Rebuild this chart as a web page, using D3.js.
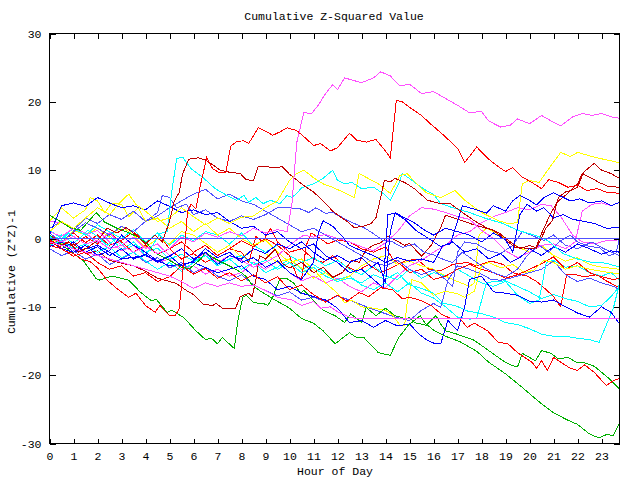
<!DOCTYPE html>
<html><head><meta charset="utf-8">
<script src="https://cdn.jsdelivr.net/npm/d3@7"></script>
<style>
body{margin:0;background:#fff}
svg{display:block}
text{font-family:"Liberation Mono","DejaVu Sans Mono",monospace;font-size:11.5px;fill:#000}
</style>
</head><body>
<svg id="chart" width="640" height="480"></svg>
<script>
const title = "Cumulative Z-Squared Value";
const xLabel = "Hour of Day";
const yLabel = "Cumulative (Z*Z)-1";
const hourTicks = d3.range(0, 24);
const valueTicks = [-30, -20, -10, 0, 10, 20, 30];

// each series: [hour, cumulative value]
const magentaBig = [[0,0],[0.5,-0.5],[1,0.3],[1.5,-0.8],[2,-0.3],[2.5,-1.5],[3,-1],[3.5,-2],[4,-1.2],[4.5,-2.2],[5,-1.5],[5.5,0.2],[6,-0.5],[6.5,0.8],[7,0.2],[7.5,1],[8,0.4],[8.5,1.5],[9,0.8],[9.5,1.3],[9.9,1],[10.1,5],[10.3,14],[10.6,18.5],[10.9,18.2],[11.2,19.5],[11.5,21.2],[11.8,22.5],[12,21.8],[12.3,23.5],[12.6,23.2],[13,22.8],[13.5,23.5],[13.8,24.4],[14.2,23.8],[14.6,22.3],[15,22.6],[15.5,21.2],[16,21.5],[16.5,20.5],[17,19.5],[17.5,18.4],[18,18.6],[18.3,17.2],[18.8,16.3],[19.2,16.6],[19.5,17.5],[20,16.8],[20.5,18],[21,17],[21.3,16.5],[21.8,17.8],[22.2,18.3],[22.6,18],[23,18.3],[23.4,17.8],[23.75,17.6]];
const redBig = [[0,-0.3],[0.3,-0.8],[0.6,-1.8],[1,-2.2],[1.3,-3],[1.7,-3.4],[2,-4.3],[2.4,-6.1],[2.8,-7.3],[3.3,-8.6],[3.6,-8],[4,-9.8],[4.4,-10.8],[4.6,-9.8],[5,-11.3],[5.25,-11.2],[5.4,-10.3],[5.5,-7],[5.6,-3],[5.75,4],[5.9,5],[6.1,4.3],[6.3,8],[6.55,11.8],[6.8,10.2],[7.1,9.6],[7.35,9.7],[7.55,13.5],[7.8,14.2],[8.1,14.3],[8.3,13.9],[8.7,16.2],[9,15.7],[9.3,15.1],[9.6,15.6],[9.9,16.2],[10.3,15.8],[10.7,14.6],[11,13.6],[11.3,13.9],[11.7,12.8],[12,13.3],[12.5,15.4],[12.8,14.4],[13.2,14.1],[13.6,14.5],[14,12.8],[14.2,11.8],[14.45,20.2],[14.7,20],[15,19.2],[15.5,18],[15.9,16.7],[16.3,15.5],[16.7,14.2],[17,13.2],[17.3,11.1],[17.8,13.4],[18.3,11.6],[18.7,10.5],[19,9.8],[19.3,10.4],[19.7,9],[20.1,8.2],[20.5,7.3],[20.8,8.6],[21.2,8.2],[21.6,7.5],[22,7.8],[22.4,7],[22.8,7.3],[23.2,6.8],[23.75,6.6]];
const darkRedHigh = [[0,-0.5],[0.4,-1.2],[0.8,-0.5],[1.2,-2],[1.6,-1.3],[2,-0.3],[2.4,1.5],[2.8,0.8],[3.2,1.6],[3.6,0.5],[4,-0.8],[4.4,0.5],[4.7,-0.5],[5,2.5],[5.2,5.5],[5.4,6.7],[5.55,9.5],[5.8,11.6],[6.2,11.8],[6.5,11.5],[6.8,10.8],[7.1,10],[7.5,9.7],[7.95,9.5],[8.2,8.6],[8.5,8.5],[8.7,10.6],[9,10.5],[9.4,10.4],[9.7,10.5],[10,9.4],[10.5,8],[11,6.8],[11.4,5.5],[11.8,4],[12.1,3.2],[12.4,2.5],[12.7,1.6],[13.1,1.8],[13.4,2.2],[13.6,3],[13.8,6],[13.95,8.5],[14.2,8.3],[14.4,8.8],[14.8,8.2],[15.2,7.3],[15.75,5.6],[16.3,5.1],[16.7,5.1],[17.25,3.7],[17.7,2.6],[18.25,1.5],[18.7,0.9],[19.2,-0.5],[19.6,-1.5],[20,-1],[20.3,-1.4],[20.7,1.6],[20.95,2.6],[21.2,6],[21.5,6.8],[21.7,7],[22,7.5],[22.25,9.7],[22.7,11],[23,10],[23.4,9.5],[23.75,8.8]];
const darkRedLow = [[0,-0.2],[0.5,-1],[1,-0.8],[1.5,-2.2],[2,-1.8],[2.5,-3.2],[3,-3.6],[3.5,-4],[4,-4.8],[4.5,-5.8],[5,-6.3],[5.3,-6.6],[5.7,-7.6],[6,-8.2],[6.4,-9.6],[6.8,-9.8],[6.95,-9.5],[7.2,-10.2],[7.75,-10.2],[7.95,-8.5],[8.3,-8],[8.45,-8.5],[8.6,-6],[8.75,-2.5],[9,-3],[9.4,-1.6],[9.7,-3.7],[10,-4.3],[10.5,-3.5],[11,-5],[11.4,-4.2],[11.8,-5.7],[12.2,-5],[12.6,-3.2],[12.9,-3.5],[13.2,-1.6],[13.5,-1],[13.8,-0.6],[14.1,0.3],[14.4,-0.2],[14.8,-1],[15,-0.7],[15.5,-2.6],[15.9,-1],[16.3,1.6],[16.5,3.4],[17.2,2.6],[17.6,2.1],[18.1,1.6],[18.5,1.2],[19,-0.2],[19.4,-1.3],[20.25,-1.5],[20.5,0.7],[20.9,3.8],[21.2,5.5],[21.6,6.6],[22,8],[22.2,9.5],[22.6,8.8],[22.9,8.2],[23.3,7.6],[23.75,7.5]];
const yellowHigh = [[0,1],[0.5,2.5],[1,1.5],[1.5,3],[2,4.5],[2.5,3.5],[3,5.5],[3.3,6.5],[3.6,5],[4,4],[4.5,2.5],[5,3],[5.5,4.5],[6,3.2],[6.5,2],[7,3],[7.5,2.2],[8,3.1],[8.5,3.3],[9,4.5],[9.5,5.5],[10,8.5],[10.3,9.5],[10.6,10],[11,8.9],[11.4,8],[11.8,7.5],[12.7,6],[12.9,9.5],[13.7,8],[14.2,6.6],[14.6,9.2],[14.9,9.5],[15.3,8],[15.7,6.7],[16.3,6],[16.9,7],[17.3,5.6],[18,3.8],[18.7,2.6],[19.1,2.2],[19.5,2.3],[19.7,8],[20,8.5],[20.4,8.2],[20.8,10.2],[21.3,12.6],[21.7,12],[22,12.6],[22.6,12],[23.2,11.5],[23.75,11.1]];
const magentaFlat = [[0,-0.5],[1,-1.5],[2,-2.5],[3,-3.5],[4,-4.5],[5,-5.5],[5.5,-6.3],[6,-7.3],[6.5,-6.5],[7,-7],[7.5,-6.5],[8,-7],[8.5,-6.8],[9,-7.6],[9.5,-8.6],[10.1,-9],[10.5,-9.8],[11,-9.2],[11.3,-10.2],[11.7,-10],[12,-10.7],[12.5,-11.5],[12.8,-11.7],[23.75,-11.7]];
const greenLow = [[0,3.4],[0.4,2.6],[0.85,1.6],[1.3,1.2],[1.95,3.8],[2.3,2.4],[2.75,1.6],[3.25,0.9],[3.7,0.2],[4.05,-0.7],[4.45,-2.2],[5,-3.2],[5.5,-4.2],[5.85,-4.4],[6.3,-3],[6.5,-2],[6.8,-2.8],[7.2,-3.5],[7.6,-4.2],[8,-5],[8.2,-5.6],[8.4,-6.6],[8.7,-7.5],[9.3,-8.8],[10,-10.2],[10.5,-11.7],[11,-12.4],[11.4,-13.5],[11.9,-15.4],[12.5,-13.8],[12.8,-14.5],[13.1,-14.5],[13.7,-16.7],[14.2,-17.1],[14.55,-14.5],[14.95,-12.7],[15.45,-11.3],[15.65,-12.4],[16,-13.4],[16.5,-14.3],[17.1,-15.1],[17.8,-16.5],[18.3,-18.1],[19,-19.8],[19.7,-21.8],[20.4,-23.9],[21,-25.5],[21.6,-26.6],[22,-27.2],[22.5,-28.6],[22.9,-29.2],[23.2,-28.7],[23.5,-28.8],[23.75,-27]];
const greenMid = [[0,0.5],[0.4,-0.6],[0.85,-1.8],[1.4,-3.2],[1.95,-5.9],[2.1,-6.1],[2.6,-5.5],[3.3,-6.1],[3.8,-7.9],[4.25,-9.1],[4.45,-8.9],[4.9,-10.8],[5.1,-10.5],[5.6,-11.6],[6.1,-13.5],[6.5,-14.8],[6.75,-14.6],[7,-15.4],[7.2,-14.5],[7.7,-16.1],[7.85,-12],[8.05,-8.6],[8.2,-8.3],[8.5,-9.4],[8.9,-9.5],[9.1,-9.8],[9.3,-8.6],[9.6,-5.9],[9.9,-5.9],[10.2,-6.6],[10.45,-8],[10.6,-7.6],[11.1,-9.4],[11.4,-10.5],[11.9,-11.3],[12.3,-12.3],[12.55,-11],[13,-12.3],[13.2,-10.1],[13.6,-11.3],[14,-10.2],[14.4,-11.3],[14.8,-11.7],[15,-11.6],[15.2,-12.3],[15.7,-12.7],[16.1,-11.3],[16.3,-12.5],[16.5,-13.5],[16.9,-13.9],[17.7,-14.9],[18.3,-16.4],[18.9,-17.9],[19.2,-18.5],[19.5,-18.8],[19.7,-16.8],[20.25,-17.9],[20.5,-16.4],[20.9,-16.8],[21.2,-17.6],[21.6,-17.4],[22,-18.2],[22.3,-18.2],[22.7,-18.7],[23.25,-20.3],[23.75,-22]];
const redFalling = [[0,-1],[0.5,-1.5],[1,-2.6],[1.5,-2],[2,-3.5],[2.5,-4.5],[3,-4],[3.5,-5.5],[4,-5],[4.5,-6.3],[5,-5.6],[5.5,-4],[6,-5.2],[6.5,-4.4],[7,-5.8],[7.5,-5],[8,-6.2],[8.5,-5.3],[9,-6.5],[9.5,-5.6],[10,-7.5],[10.5,-6.8],[11,-8.2],[11.5,-9.3],[12,-8.3],[12.4,-9.2],[12.9,-7.9],[13.3,-8.5],[13.8,-7.2],[14.3,-7.5],[14.7,-8.8],[15,-8.6],[15.5,-9.1],[15.9,-9.8],[16.3,-11],[16.7,-11.7],[17.1,-11.7],[17.4,-13],[17.7,-12.4],[18.25,-13.5],[18.7,-15.2],[19.1,-15.4],[19.5,-16.7],[20.1,-18.1],[20.3,-19],[20.5,-17.9],[20.75,-19.3],[21,-17.4],[21.3,-18.1],[21.7,-19],[22,-19.3],[22.3,-18.5],[22.7,-19.6],[23.2,-21.5],[23.5,-20.8],[23.75,-20.5]];
const redMid = [[0,0.5],[0.5,-0.5],[1,0.8],[1.5,-0.6],[2,0.5],[2.5,-1],[3,-0.3],[3.5,1],[4,-0.5],[4.5,0.8],[5,-1.5],[5.5,-0.5],[6,-2],[6.5,-1],[7,-2.5],[7.5,-1.5],[8,-2],[8.3,-3.5],[8.6,0.3],[8.9,-0.5],[9.2,1.5],[9.5,-0.5],[10,-2],[10.5,-1.5],[11,-3],[11.4,-3.5],[11.8,-2.5],[12.3,-4],[12.8,-4.8],[13.3,-3.8],[13.8,-5],[14.3,-4.2],[14.8,-3.3],[15.3,-3],[15.8,-4.5],[16.3,-4.7],[16.8,-3.8],[17.4,-3.5],[17.8,-4],[18.4,-3.3],[18.9,-3.8],[19.3,-5],[19.9,-5.5],[20.3,-6.3],[20.7,-7.5],[21,-8.5],[21.3,-10],[21.55,-5.3],[21.8,-5.2],[22.3,-5.6],[22.8,-5.3],[23.2,-6.2],[23.75,-7.2]];
const redLow = [[0,-0.8],[0.5,-0.3],[1,-1.2],[1.5,0.3],[2,-0.8],[2.5,0.8],[3,-0.5],[3.5,-2],[4,-1],[4.5,-2.3],[5,-1.5],[5.5,-3],[6,-2.2],[6.5,-3.5],[7,-2.5],[7.5,-1.5],[8,-0.3],[8.5,-1.2],[9,0],[9.5,-1],[10,-2.5],[10.3,-5.5],[10.5,-6],[10.7,-1],[10.9,0.8],[11.2,0.2],[11.6,-0.8],[12,-0.2],[12.5,-0.5],[13,-1.5],[13.5,-2],[14,-1.2],[14.3,-3],[14.7,-4],[15,-5],[15.5,-4.5],[16,-6],[16.5,-5.5],[17,-4.5],[17.5,-3.8],[18,-4.5],[18.5,-5],[19,-5.8],[19.5,-5.3],[20,-4.5],[20.5,-3.7],[21,-2.7],[21.5,-4.5],[22,-3.5],[22.5,-5],[23,-5.6],[23.5,-6],[23.75,-5.8]];
const cyanPeak = [[0,0.3],[0.4,-0.5],[0.8,0.8],[1.2,-0.2],[1.6,1.2],[2,0.3],[2.4,-1],[2.8,0],[3.2,-1.5],[3.6,-0.8],[4,-2.5],[4.3,-1],[4.6,0.7],[4.9,1],[5.1,7],[5.3,11.7],[5.55,11.9],[5.9,10.2],[6.4,8.9],[6.9,7.3],[7.4,6.3],[7.8,5.6],[8.1,6.3],[8.3,5.3],[8.6,6],[8.9,5.1],[9.2,5.6],[9.6,5.1],[9.9,6.3],[10.1,6],[10.3,6.6],[10.5,7.4],[11,8],[11.4,8.8],[11.8,10],[12,8.5],[12.3,8],[12.6,8.2],[13,7.3],[13.5,7.5],[13.9,6.6],[14.2,5.6],[14.55,8],[14.7,9.5],[14.95,8.9],[15.3,8],[15.7,7],[16,6.5],[16.3,5.1],[16.8,4.5],[17.5,3.8],[18.2,2.9],[18.9,2.2],[19.5,1.2],[20.3,0.4],[20.8,-0.4],[21.4,-2.2],[22,-3],[22.6,-3.5],[23.2,-3.6],[23.75,-4.2]];
const cyanDip = [[0,-1],[0.5,-0.3],[1,-1.5],[1.5,-0.8],[2,-2],[2.5,-1.2],[3,-2.8],[3.5,-2],[4,-3.3],[4.5,-4.5],[5,-3.5],[5.5,-4.8],[6,-3.5],[6.5,-2.5],[7,-4],[7.5,-3],[8,-2.5],[8.5,-3.8],[9,-3.2],[9.5,-4.5],[10,-3.5],[10.5,-5],[11,-4.2],[11.5,-5.5],[12,-6.3],[12.5,-5.8],[13,-6.5],[13.5,-5.3],[14,-6],[14.5,-5],[15,-6.8],[15.5,-7.3],[16,-8],[16.4,-9.5],[16.9,-9.8],[17.4,-10.6],[18,-11],[18.5,-11.5],[19,-12.3],[19.5,-12.6],[20,-13.2],[20.5,-14],[21,-14.3],[21.5,-14.3],[22,-14.6],[22.5,-14.8],[22.9,-15.2],[23.5,-10.1],[23.75,-6.6]];
const cyanJump = [[0,-0.5],[0.5,0.5],[1,-0.7],[1.5,0.8],[2,-0.8],[2.5,0.5],[3,-1.7],[3.5,-0.5],[4,-2],[4.5,-1.4],[5,-3],[5.5,-2.3],[6,-3.3],[6.5,-2.5],[7,-3.7],[7.5,-3],[8,-4.5],[8.5,-3.5],[9,-5],[9.5,-4.2],[10,-3],[10.5,-4.5],[11,-3.8],[11.5,-5],[12,-6],[12.5,-5.5],[13,-6.8],[13.5,-7.5],[14,-6.5],[14.5,-7.8],[15,-6.5],[15.5,-8],[16,-8.7],[16.5,-10],[17,-11.5],[17.5,-11.8],[17.8,-11.7],[18.2,-6.5],[18.5,-6.3],[19,-6.2],[19.5,-7],[20,-7.8],[20.5,-8.8],[21,-8.2],[21.5,-8.8],[22,-9.2],[22.5,-10],[23,-9.8],[23.4,-8.5],[23.75,-7]];
const cyanLate = [[0,1.2],[0.5,0],[1,1.5],[1.5,0.5],[2,2],[2.5,1],[3,0],[3.5,1.3],[4,-0.5],[4.5,0.8],[5,-1],[5.5,0.5],[6,-0.3],[6.5,1],[7,0.5],[7.5,-0.8],[8,0.8],[8.5,-1],[9,-2],[9.5,-1],[10,-2.5],[10.5,-3.5],[11,-2.8],[11.5,-4],[12,-3.2],[12.5,-4.5],[13,-5.3],[13.5,-4],[14,-5.5],[14.5,-6],[15,-4.5],[15.5,-5.8],[16,-5],[16.5,-5.5],[17,-4.5],[17.5,-5.5],[18,-6.5],[18.5,-7],[19,-6.3],[19.5,-8.3],[20,-9.5],[20.4,-9],[20.7,-3.5],[21,-3.2],[21.5,-4.2],[22,-4],[22.5,-5],[23,-5.5],[23.4,-5],[23.75,-6.1]];
const yellowEarly = [[0,2.5],[0.5,4.5],[1,3],[1.5,4.2],[1.7,6],[2,5.5],[2.3,3.8],[2.6,5.2],[3,5],[3.3,3.2],[3.7,4.5],[4,2.5],[4.5,3],[5,1.5],[5.5,2.5],[6,1],[6.5,2.2],[7,0.5],[7.5,1.5],[8,0],[8.5,-1],[9,-0.2],[9.5,-2],[10,-3.5],[10.5,-3],[11,-4.5],[11.5,-6.5],[12,-8],[12.3,-9.4],[12.6,-9],[13,-10],[13.5,-10.2],[14,-10.5],[14.3,-11.2],[14.6,-12.7],[14.8,-12.7],[14.9,-9.5],[15.1,-6],[15.5,-6.5],[16,-8.3],[16.5,-7.7],[17,-8.1],[17.3,-8.6],[17.7,-7.7],[18,-4],[18.3,-3.5],[18.8,-4.3],[19.3,-3.8],[19.8,-5],[20.2,-4.6],[20.6,-3.2],[21,-3.5],[21.5,-4.5],[22,-4],[22.5,-4.5],[23,-4.8],[23.75,-5.2]];
const yellowMid = [[0,0],[0.5,-0.8],[1,1.2],[1.5,0.5],[2,1.5],[2.5,0.2],[3,1.8],[3.5,0.5],[4,-1.3],[4.5,0],[5,-0.8],[5.5,1],[6,0.5],[6.5,-0.7],[7,-2],[7.5,-1],[8,-2.8],[8.5,-1.5],[9,-2.2],[9.5,-3.5],[10,-3],[10.5,-4.3],[11,-5.8],[11.5,-5],[12,-6.3],[12.5,-5.5],[13,-4],[13.5,-3],[14,-2.5],[14.5,-3.8],[15,-3.3],[15.5,-4],[16,-4.5],[16.5,-5.5],[17,-6.3],[17.5,-7],[17.7,-6.5],[17.9,0.5],[18.2,1.5],[18.6,0.8],[19,0],[19.5,-1.2],[20,-2],[20.5,-1],[21,-2.5],[21.5,-3.3],[22,-2.8],[22.5,-3.8],[23,-4.2],[23.75,-4.5]];
const blueRise = [[0,-0.3],[0.5,-1.5],[1,-0.5],[1.5,-2],[2,-1.2],[2.5,-2.5],[3,-1.5],[3.5,-3],[4,-2.3],[4.5,-3.5],[5,-2.5],[5.5,-4],[6,-3.3],[6.5,-1.5],[7,-2.8],[7.5,-2],[8,-3.5],[8.5,-2.8],[9,-4.2],[9.5,-3.3],[10,-5],[10.5,-6],[11,-3.5],[11.2,0.8],[11.4,2.6],[11.8,1.8],[12.2,0.3],[12.5,-1],[13,-1.8],[13.5,-2.5],[14,-3.5],[14.5,-2.8],[15,-3.3],[15.5,-3],[16,-3.5],[16.4,-1],[16.7,-0.8],[17,2.5],[17.2,4.8],[17.4,4.6],[17.8,4.2],[18.2,3.7],[18.5,4.8],[19,4],[19.3,5.5],[19.6,6.3],[19.9,5.8],[20.3,4.9],[20.6,6],[21,6.7],[21.3,6.2],[21.7,5.5],[22.1,5.8],[22.5,5.2],[23,5.5],[23.4,4.8],[23.75,5.3]];
const blueJump = [[0,-1.2],[0.5,-0.5],[1,-2],[1.5,-1],[2,-2.5],[2.5,-1.8],[3,0.5],[3.5,-1],[4,-2],[4.5,-3.3],[5,-2.6],[5.5,-1.5],[6,-3],[6.5,-2],[7,-3.8],[7.5,-2.5],[8,-3],[8.5,-1.5],[9,-2.2],[9.5,-0.8],[10,-1.5],[10.5,-0.5],[11,-2],[11.5,-3.2],[12,-2.5],[12.5,-3.5],[13,-2.8],[13.4,-4.2],[13.7,-3.5],[14,-6.5],[14.2,1],[14.4,3.8],[14.8,3],[15.2,2.3],[15.6,1.3],[16,0.5],[16.5,1.5],[17,1],[17.5,0.5],[18,-0.5],[18.5,0.8],[19,-0.2],[19.3,-2],[19.6,3.5],[19.9,5],[20.3,4],[20.6,4.5],[21,3],[21.4,3.5],[21.8,2.8],[22.3,2.5],[22.7,2.2],[23.2,1.5],[23.75,1.6]];
const blueLow = [[0,-1],[1,-2],[2,-1],[3,-3],[4,-2.5],[5,-4],[6,-3.5],[7,-5],[8,-4],[8.5,-5.5],[9,-6],[9.5,-7.5],[10,-7],[10.5,-8],[11,-8.5],[11.5,-9],[12,-10.2],[12.5,-12.3],[13,-12],[13.5,-13],[14,-12],[14.5,-12.8],[15,-12.5],[15.4,-14],[15.7,-14.8],[16,-15.3],[16.3,-15.4],[16.6,-12],[17,-13.5],[17.3,-10],[17.5,-6],[18,-5.5],[18.5,-7.8],[19,-8],[19.5,-8.3],[20,-9.2],[20.5,-9.3],[21,-9],[21.5,-10],[22,-10.9],[22.5,-11.5],[23,-10],[23.4,-10.8],[23.75,-12.5]];
const blueEarly = [[0,0.5],[0.5,4.8],[1,5.2],[1.5,4.7],[2,6],[2.5,5.2],[3,4.5],[3.5,4.8],[4,4.2],[4.5,5.5],[5,4.7],[5.5,3.8],[6,4.2],[6.5,3.5],[7,3.8],[7.5,2.5],[8,1.5],[8.5,1.8],[9,0.5],[9.5,1],[10,-0.5],[10.5,-1.5],[11,-0.8],[11.5,-2.5],[12,-3.5],[12.5,-5],[13,-4.5],[13.5,-6],[13.9,-7.2],[14.1,3.5],[14.4,3.7],[14.8,2.8],[15.3,1.1],[15.8,0],[16.3,-1.2],[16.8,-0.5],[17.3,-2],[17.8,-1.5],[18.3,-3],[18.8,-2.2],[19.2,-3.5],[19.6,-2.8],[20,-1.5],[20.5,-2.5],[21,-1.2],[21.5,-2],[22,-0.8],[22.5,-1.5],[23,-2.3],[23.4,-1.8],[23.75,-2]];
const slateZero = [[0,0],[6,0],[12,0],[18,0],[23.75,0]];
const slateHigh = [[0,0.8],[0.5,-0.5],[1,1],[1.5,2.3],[2,1.5],[2.5,0.5],[3,1.8],[3.5,1],[4,2.5],[4.5,3.8],[4.7,6.3],[5,6],[5.3,4.5],[5.7,5],[6,3.5],[6.5,4.2],[7,3],[7.5,2.5],[8,3.3],[8.5,2.8],[9,3.5],[9.5,4.5],[10,4.5],[10.5,4.3],[10.8,3.8],[11.1,4.5],[11.5,3.7],[11.8,3.8],[12.3,2.9],[12.7,2.2],[13.1,1.6],[13.5,0.7],[13.9,-0.3],[14.3,-0.5],[14.7,-1.3],[15.2,-0.8],[15.6,-2],[16,-2.4],[16.5,-3.2],[16.8,-3.5],[17.2,-2],[17.6,-3],[18,-4],[18.5,-5],[19,-5.6],[19.5,-4.5],[19.9,-2.5],[20.4,-1],[20.8,-2],[21.3,-0.3],[21.7,0.5],[22,-0.5],[22.5,-1.2],[22.9,-1.3],[23.3,-2.5],[23.6,-2.2],[23.75,0]];
const slateMid = [[0,1.5],[0.5,2.5],[1,1.2],[1.5,3],[2,2.2],[2.5,3.5],[3,2.8],[3.5,4],[4,2.5],[4.5,3.3],[5,4.5],[5.5,5.5],[6,6.5],[6.5,7.2],[7,5.8],[7.5,6.5],[8,5.5],[8.5,5],[9,4],[9.5,3],[10,2],[10.5,1],[11,1.5],[11.5,0.5],[12,-0.5],[12.5,-1.5],[13,-2.5],[13.5,-3.5],[14,-4],[14.5,-3.2],[15,-4.5],[15.5,-5.3],[16,-4.6],[16.5,-6],[16.8,-7],[17,-2],[17.3,-0.5],[17.8,-0.8],[18.3,-1.8],[18.8,-2.2],[19.3,-1],[19.7,1],[20.2,0.3],[20.6,-0.3],[21,0.5],[21.5,-1],[22,-1.5],[22.6,-0.5],[23.1,-1.5],[23.75,-2.5]];
const slateLow = [[0,-1.5],[0.5,-2.5],[1,-1.8],[1.5,-3],[2,-2.3],[2.5,-3.8],[3,-3],[3.5,-2],[4,-3.5],[4.5,-2.8],[5,-4.3],[5.5,-3.5],[6,-5],[6.5,-4.2],[7,-5.5],[7.5,-6.2],[8,-5.3],[8.5,-6.8],[9,-7.6],[9.5,-8.4],[10,-7.8],[10.5,-9],[11,-8.6],[11.5,-9.2],[12,-8.4],[12.5,-9],[13,-9.7],[13.5,-10.4],[14,-11],[14.5,-11.6],[15,-12],[15.5,-10.5],[16,-9.5],[16.3,-10.1],[16.6,-6.1],[17,-4],[17.5,-4.5],[18,-5.2],[18.4,-6],[18.8,-6.1],[19.2,-5.8],[19.6,-5.4],[20,-5],[20.5,-4.5],[21,-3.3],[21.5,-5.3],[22,-6.3],[22.5,-5.8],[23,-6.5],[23.5,-7],[23.75,-7.5]];
const magentaLate = [[0,1],[0.5,0.3],[1,1.5],[1.5,0.8],[2,-0.5],[2.5,0.8],[3,-1],[3.5,0.2],[4,-1.5],[4.5,-0.8],[5,-2.5],[5.5,-1.5],[6,-3],[6.5,-2.2],[7,-3.5],[7.5,-2.5],[8,-3.2],[8.5,-4.2],[9,-3.5],[9.5,-2.5],[10,-1],[10.3,-0.2],[10.6,0.5],[11,0.2],[11.5,0.6],[12,0],[12.5,-0.5],[13,-1.2],[13.5,-1.8],[14,-0.6],[14.5,1],[15,3.3],[15.5,4.5],[16,4.3],[16.5,3.8],[17,3.2],[17.5,2.8],[18,1.2],[18.5,0],[19,-1.8],[19.5,-2.8],[20,-2],[20.5,-1],[21,-0.8],[21.5,-1.5],[21.9,-0.5],[22.2,4],[22.6,5],[23,5.2],[23.4,4.8],[23.75,5.3]];
const magentaMid = [[0,2.5],[0.5,2.3],[1,1.5],[1.5,0.5],[2,1.2],[2.5,-0.5],[3,-1.8],[3.5,-1],[4,-2.5],[4.5,-3.5],[5,-3],[5.5,-4.5],[6,-4],[6.5,-5.2],[7,-4.5],[7.5,-5.5],[8,-5],[8.5,-3.5],[9,-4.5],[9.5,-3.3],[10,-5],[10.5,-6.2],[11,-5.5],[11.5,-6.5],[12,-5.8],[12.5,-7],[13,-7.8],[13.5,-6.5],[14,-7.2],[14.5,-5.5],[15,-4],[15.5,-3.2],[16,-2],[16.5,-1],[17,0.5],[17.5,1],[18,2.3],[18.5,3.2],[19,3.8],[19.5,4.5],[20,4.2],[20.5,5],[20.9,4.8],[21.3,3.2],[21.8,0.5],[22.2,-0.5],[22.7,-0.8],[23.2,-0.3],[23.75,-0.2]];

const palette = {
  red: "#ff0000", green: "#00b000", blue: "#0000ff", magenta: "#ff50ff",
  cyan: "#00ffff", darkred: "#c00000", yellow: "#ffff00", slate: "#5050ff"
};
// drawing order and colour family of each series
const seriesOrder = [
  ["redMid", redMid, "red"], ["cyanJump", cyanJump, "cyan"], ["yellowMid", yellowMid, "yellow"],
  ["slateLow", slateLow, "slate"], ["magentaMid", magentaMid, "magenta"], ["cyanLate", cyanLate, "cyan"],
  ["redLow", redLow, "red"], ["yellowEarly", yellowEarly, "yellow"], ["slateMid", slateMid, "slate"],
  ["darkRedLow", darkRedLow, "darkred"], ["greenMid", greenMid, "green"], ["cyanDip", cyanDip, "cyan"],
  ["blueLow", blueLow, "blue"], ["magentaLate", magentaLate, "magenta"], ["slateHigh", slateHigh, "slate"],
  ["blueEarly", blueEarly, "blue"], ["redFalling", redFalling, "red"], ["greenLow", greenLow, "green"],
  ["cyanPeak", cyanPeak, "cyan"], ["yellowHigh", yellowHigh, "yellow"], ["blueJump", blueJump, "blue"],
  ["blueRise", blueRise, "blue"], ["darkRedHigh", darkRedHigh, "darkred"], ["redBig", redBig, "red"],
  ["magentaBig", magentaBig, "magenta"], ["magentaFlat", magentaFlat, "magenta"], ["slateZero", slateZero, "slate"]
];

const svg = d3.select("#chart");
const mLeft = 49, mRight = 619, mTop = 33, mBottom = 443;
const x = d3.scaleLinear().domain([0, 23.75]).range([mLeft, mRight]);
const y = d3.scaleLinear().domain([-30, 30]).range([mBottom, mTop]);

const plot = svg.append("g").attr("transform", "translate(0.5,0.5)");
const line = d3.line().x(d => x(d[0])).y(d => y(d[1]));
seriesOrder.forEach(([name, data, fam]) => {
  plot.append("path").datum(data)
    .attr("class", "series " + name)
    .attr("d", line)
    .attr("fill", "none")
    .attr("stroke", palette[fam])
    .attr("stroke-width", 1)
    .attr("shape-rendering", "crispEdges");
});

const fmt = d => String(d);
const gB = svg.append("g").attr("transform", `translate(0.5,${mBottom + 0.5})`)
  .call(d3.axisBottom(x).tickValues(hourTicks).tickFormat(fmt).tickSizeInner(-5).tickSizeOuter(0).tickPadding(8));
const gT = svg.append("g").attr("transform", `translate(0.5,${mTop + 0.5})`)
  .call(d3.axisTop(x).tickValues(hourTicks).tickFormat("").tickSizeInner(-5).tickSizeOuter(0));
const gL = svg.append("g").attr("transform", `translate(${mLeft + 0.5},0.5)`)
  .call(d3.axisLeft(y).tickValues(valueTicks).tickFormat(fmt).tickSizeInner(-6).tickSizeOuter(0).tickPadding(8));
const gR = svg.append("g").attr("transform", `translate(${mRight + 0.5},0.5)`)
  .call(d3.axisRight(y).tickValues(valueTicks).tickFormat("").tickSizeInner(-6).tickSizeOuter(0));
[gB, gT, gL, gR].forEach(g => {
  g.select(".domain").remove();
  g.selectAll(".tick line").attr("stroke", "#000").attr("shape-rendering", "crispEdges");
  g.selectAll("text").attr("font-family", null).attr("font-size", null).attr("fill", "#000");
});
gB.selectAll("text").attr("dy", "0.71em");

svg.append("rect").attr("x", mLeft + 0.5).attr("y", mTop + 0.5)
  .attr("width", mRight - mLeft).attr("height", mBottom - mTop)
  .attr("fill", "none").attr("stroke", "#000").attr("shape-rendering", "crispEdges");

svg.append("text").attr("x", 334).attr("y", 20).attr("text-anchor", "middle").text(title);
svg.append("text").attr("x", 335).attr("y", 475).attr("text-anchor", "middle").text(xLabel);
svg.append("text").attr("transform", "translate(15,272) rotate(-90)").attr("text-anchor", "middle").text(yLabel);
</script>
</body></html>
